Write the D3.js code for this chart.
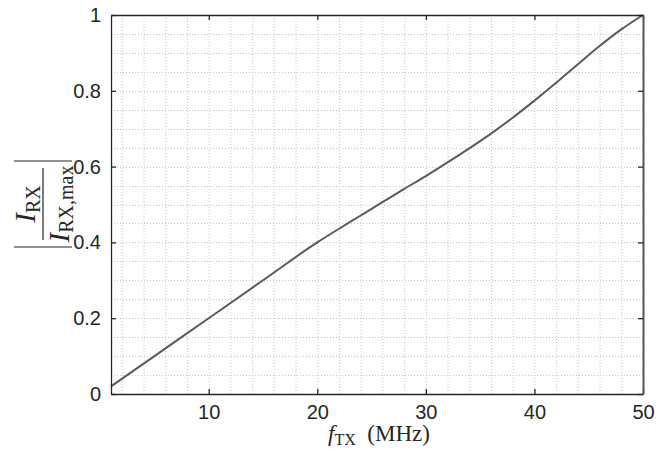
<!DOCTYPE html>
<html>
<head>
<meta charset="utf-8">
<script src="https://cdn.jsdelivr.net/npm/d3@7"></script>
<style>
  body { margin: 0; background: #fff; }
  svg { display: block; }
</style>
</head>
<body>
<script>
document.addEventListener("DOMContentLoaded", () => {

  // frequency (MHz) and normalised receive current
  const freqs = [1, 5, 10, 15, 20, 22, 24, 26, 28, 30, 32, 34, 36, 38, 40, 42, 44, 46, 48, 50];
  const current = [0.02, 0.10, 0.20, 0.30, 0.40, 0.436, 0.471, 0.506, 0.541, 0.575, 0.611, 0.648, 0.687, 0.729, 0.774, 0.821, 0.870, 0.918, 0.962, 1.0];

  const xTicks = [10, 20, 30, 40, 50];
  const yTicks = [0, 0.2, 0.4, 0.6, 0.8, 1];
  const yTickLabels = ["0", "0.2", "0.4", "0.6", "0.8", "1"];

  const w = 670;
  const h = 457;
  const left = 111, right = 643, top = 15, bottom = 394;

  const svg = d3.select("body")
  .append("svg")
  .attr("width", w)
  .attr("height", h);

  const x = d3.scaleLinear().domain([1, 50]).range([left, right]);
  const y = d3.scaleLinear().domain([0, 1]).range([bottom, top]);

  // dotted grid (major + minor look the same)
  const gx = d3.range(2, 50, 2);
  const gy = d3.range(1, 20).map((i) => i * 0.05);

  svg.append("g").selectAll("line")
  .data(gx)
  .enter()
  .append("line")
  .attr("x1", (d) => x(d) + 0.5)
  .attr("x2", (d) => x(d) + 0.5)
  .attr("y1", top)
  .attr("y2", bottom)
  .attr("stroke", "#c8c8c8")
  .attr("stroke-width", 1)
  .attr("stroke-dasharray", "1,2");

  svg.append("g").selectAll("line")
  .data(gy)
  .enter()
  .append("line")
  .attr("y1", (d) => Math.round(y(d)) + 0.5)
  .attr("y2", (d) => Math.round(y(d)) + 0.5)
  .attr("x1", left)
  .attr("x2", right)
  .attr("stroke", "#c8c8c8")
  .attr("stroke-width", 1)
  .attr("stroke-dasharray", "1,2");

  // the curve
  const line = d3.line()
  .x((d, i) => x(freqs[i]))
  .y((d) => y(d))
  .curve(d3.curveMonotoneX);

  svg.append("path")
  .datum(current)
  .attr("d", line)
  .attr("fill", "none")
  .attr("stroke", "#5a5a5a")
  .attr("stroke-width", 2);

  // axes with inward ticks
  const axisColor = "#262626";
  const tickFont = "'Liberation Sans', Arial, sans-serif";

  const xAxis = svg.append("g")
  .attr("transform", `translate(0,${bottom})`)
  .call(d3.axisBottom(x).tickValues(xTicks).tickSizeInner(-5).tickSizeOuter(0).tickPadding(11));

  const xTop = svg.append("g")
  .attr("transform", `translate(0,${top})`)
  .call(d3.axisTop(x).tickValues(xTicks).tickSizeInner(-5).tickSizeOuter(0).tickFormat(""));

  const yAxis = svg.append("g")
  .attr("transform", `translate(${left},0)`)
  .call(d3.axisLeft(y).tickValues(yTicks).tickSizeInner(-5).tickSizeOuter(0).tickPadding(10)
    .tickFormat((d, i) => yTickLabels[i]));

  const yRight = svg.append("g")
  .attr("transform", `translate(${right},0)`)
  .call(d3.axisRight(y).tickValues(yTicks).tickSizeInner(-5).tickSizeOuter(0).tickFormat(""));

  [xAxis, xTop, yAxis, yRight].forEach((g) => {
    g.select(".domain").attr("stroke", axisColor).attr("stroke-width", 1.3);
    g.selectAll(".tick line").attr("stroke", axisColor).attr("stroke-width", 1.3);
    g.selectAll("text")
    .style("font-family", tickFont)
    .style("font-size", "20px")
    .attr("fill", axisColor);
  });

  xAxis.selectAll("text").attr("dy", "0.71em");
  yRight.select(".domain").attr("stroke", "#555").attr("stroke-width", 2);

  // x label: f_TX (MHz)
  const serif = "'Liberation Serif', 'Times New Roman', serif";
  const xl = svg.append("text")
  .attr("x", 379)
  .attr("y", 441)
  .attr("text-anchor", "middle")
  .style("font-family", serif)
  .style("font-size", "23px")
  .attr("fill", axisColor);
  xl.append("tspan").style("font-style", "italic").text("f");
  xl.append("tspan").attr("dy", 4).style("font-size", "16px").text("TX");
  xl.append("tspan").attr("dy", -4).text("\u2002(MHz)");

  // y label: |I_RX / I_RX,max|
  const yl = svg.append("g")
  .attr("transform", "translate(43,204) rotate(-90)")
  .style("font-family", serif)
  .attr("fill", axisColor);

  const num = yl.append("text")
  .attr("x", 0)
  .attr("y", -8)
  .attr("text-anchor", "middle")
  .style("font-size", "29px");
  num.append("tspan").style("font-style", "italic").text("I");
  num.append("tspan").attr("dy", 5).style("font-size", "20px").text("RX");

  const den = yl.append("text")
  .attr("x", 0)
  .attr("y", 26)
  .attr("text-anchor", "middle")
  .style("font-size", "29px");
  den.append("tspan").style("font-style", "italic").text("I");
  den.append("tspan").attr("dy", 4).style("font-size", "20px").text("RX,max");

  yl.append("line")
  .attr("x1", -36).attr("x2", 36)
  .attr("y1", 0).attr("y2", 0)
  .attr("stroke", axisColor)
  .attr("stroke-width", 1.2);

  [-43, 43].forEach((d) => {
    yl.append("line")
    .attr("x1", d).attr("x2", d)
    .attr("y1", -29).attr("y2", 29)
    .attr("stroke", axisColor)
    .attr("stroke-width", 1.2);
  });

});
</script>
</body>
</html>
